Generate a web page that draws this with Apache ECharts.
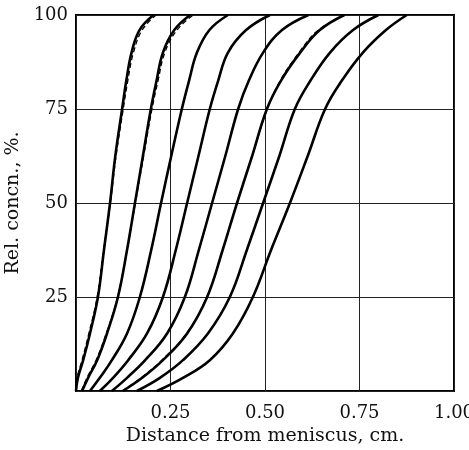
<!DOCTYPE html>
<html>
<head>
<meta charset="utf-8">
<script src="https://cdn.jsdelivr.net/npm/echarts@6/dist/echarts.min.js"></script>
<style>
  html, body { margin: 0; padding: 0; background: #fff; }
  #chart { width: 469px; height: 450px; }
</style>
</head>
<body>
<div id="chart"></div>
<script>
// relative concentration levels (%) shared by every curve
const levels = [0, 3.5, 8.2, 15.3, 25, 37.5, 50, 62.5, 75, 82.5, 90, 96, 100]

// distance from meniscus (cm) at each level, solid curves
const curve1 = [0.000, 0.005, 0.019, 0.037, 0.058, 0.074, 0.090, 0.104, 0.122, 0.133, 0.147, 0.168, 0.205]
const curve2 = [0.016, 0.032, 0.056, 0.082, 0.111, 0.135, 0.156, 0.177, 0.198, 0.213, 0.230, 0.260, 0.302]
const curve3 = [0.037, 0.063, 0.095, 0.135, 0.169, 0.199, 0.225, 0.252, 0.280, 0.299, 0.320, 0.353, 0.402]
const curve4 = [0.063, 0.098, 0.138, 0.188, 0.230, 0.264, 0.294, 0.324, 0.354, 0.376, 0.402, 0.450, 0.513]
const curve5 = [0.095, 0.135, 0.183, 0.241, 0.288, 0.325, 0.360, 0.395, 0.429, 0.457, 0.495, 0.545, 0.615]
const curve6 = [0.124, 0.175, 0.230, 0.294, 0.347, 0.388, 0.426, 0.466, 0.505, 0.542, 0.593, 0.645, 0.710]
const curve7 = [0.161, 0.222, 0.283, 0.349, 0.407, 0.452, 0.495, 0.538, 0.579, 0.620, 0.672, 0.733, 0.800]
const curve8 = [0.214, 0.283, 0.354, 0.415, 0.468, 0.516, 0.566, 0.613, 0.659, 0.703, 0.759, 0.820, 0.875]

// dashed companions
const dashed1 = [0.000, 0.003, 0.016, 0.034, 0.056, 0.073, 0.091, 0.106, 0.125, 0.137, 0.152, 0.175, 0.212]
const dashed2 = [0.014, 0.029, 0.053, 0.080, 0.110, 0.135, 0.157, 0.179, 0.201, 0.217, 0.235, 0.267, 0.310]
const dashed6 = [0.121, 0.172, 0.227, 0.292, 0.346, 0.388, 0.426, 0.466, 0.506, 0.540, 0.590, 0.641, 0.712]

const xTicks = ['', '0.25', '0.50', '0.75', '1.00']
const yTicks = ['', '25', '50', '75', '100']

const solidCurves = [curve1, curve2, curve3, curve4, curve5, curve6, curve7, curve8]
const dashedCurves = [dashed1, dashed2, dashed6]

const font = 'DejaVu Serif'

function toPoints(xs) {
  return xs.map((x, i) => [x, levels[i]])
}

const series = []
solidCurves.forEach((c, i) => {
  series.push({
    name: 'curve' + (i + 1),
    type: 'line',
    data: toPoints(c),
    smooth: 0.4,
    symbol: 'none',
    lineStyle: { color: '#000', width: 2.6 },
    z: 3
  })
})
dashedCurves.forEach((c, i) => {
  series.push({
    name: 'dashed' + (i + 1),
    type: 'line',
    data: toPoints(c),
    smooth: 0.4,
    symbol: 'none',
    lineStyle: { color: '#000', width: 1.3, type: [5, 3] },
    z: 2
  })
})

const chart = echarts.init(document.getElementById('chart'))
chart.setOption({
  animation: false,
  backgroundColor: '#fff',
  grid: {
    left: 76,
    right: 15,
    top: 15,
    bottom: 59,
    outerBoundsMode: 'none',
    containLabel: false,
    show: true,
    borderColor: '#000',
    borderWidth: 2
  },
  xAxis: {
    type: 'value',
    min: 0,
    max: 1,
    interval: 0.25,
    name: 'Distance from meniscus, cm.',
    nameLocation: 'middle',
    nameGap: 36,
    nameTextStyle: { fontFamily: font, fontSize: 19, color: '#111' },
    axisLine: { show: false },
    axisTick: { show: false },
    axisLabel: {
      margin: 13,
      fontFamily: font,
      fontSize: 18,
      color: '#111',
      formatter: (v) => xTicks[Math.round(v / 0.25)]
    },
    splitLine: { show: true, lineStyle: { color: '#222', width: 1 } }
  },
  yAxis: {
    type: 'value',
    min: 0,
    max: 100,
    interval: 25,
    name: 'Rel. concn., %.',
    nameLocation: 'middle',
    nameGap: 50,
    nameTextStyle: { fontFamily: font, fontSize: 19, color: '#111' },
    axisLine: { show: false },
    axisTick: { show: false },
    axisLabel: {
      margin: 8,
      fontFamily: font,
      fontSize: 18,
      color: '#111',
      formatter: (v) => yTicks[Math.round(v / 25)]
    },
    splitLine: { show: true, lineStyle: { color: '#222', width: 1.2 } }
  },
  series: series
})
</script>
</body>
</html>
